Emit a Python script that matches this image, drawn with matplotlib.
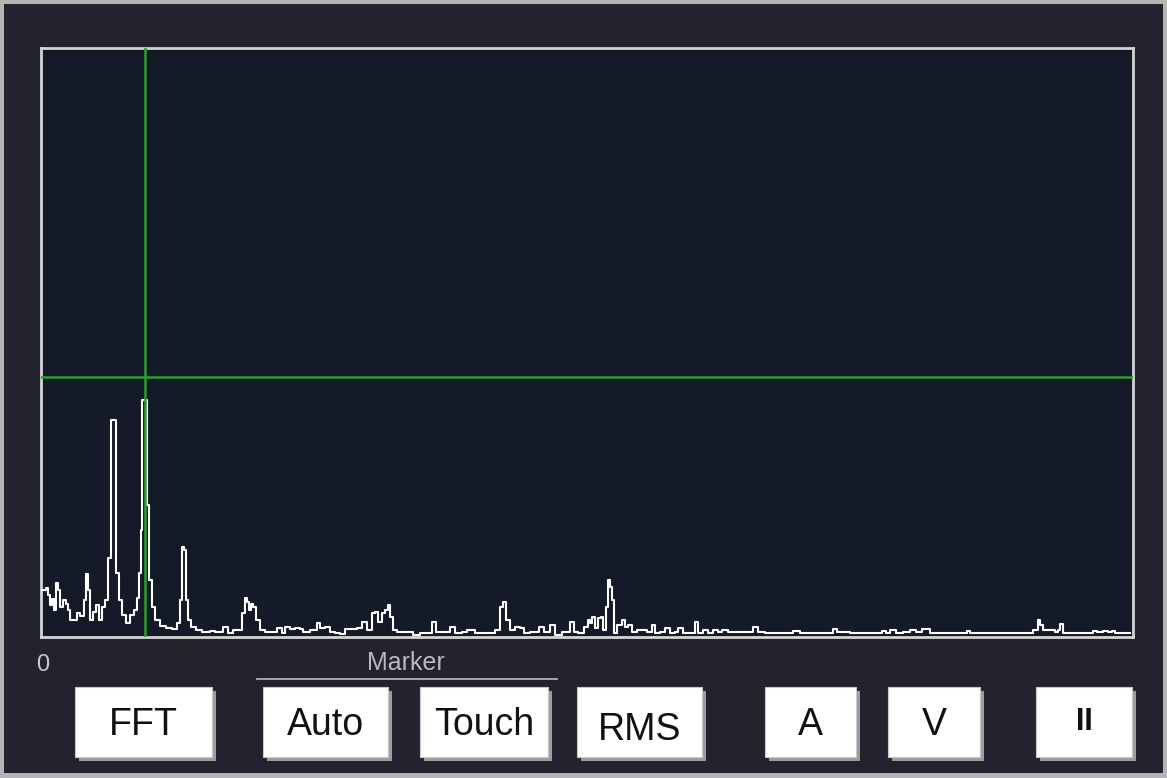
import matplotlib
matplotlib.use("Agg")
import matplotlib.pyplot as plt
from matplotlib.patches import Rectangle
from matplotlib.lines import Line2D

W, H = 1167, 778

# spectrum: frequency bin, amplitude (% of full scale)
freq = [0, 2, 5, 7, 9, 11, 13, 15, 17, 19, 22, 25, 27, 29, 33, 36, 39, 43, 45, 47,
        49, 52, 55, 58, 61, 64, 67, 70, 72, 75, 78, 81, 85, 89, 93, 96, 98, 100, 101, 103,
        106, 108, 111, 114, 119, 125, 131, 136, 139, 141, 143, 145, 147, 150, 155, 161,
        164, 169, 174, 182, 187, 192, 197, 201, 204, 206, 208, 210, 212, 215, 219, 224,
        229, 236, 241, 244, 249, 254, 259, 262, 269, 276, 279, 284, 289, 294, 299, 304,
        312, 316, 321, 326, 331, 334, 337, 341, 344, 347, 349, 352,
        356, 364, 372, 379, 386, 391, 395, 402, 409, 414, 421, 426, 434, 444, 454, 459,
        462, 465, 469, 474, 479, 483, 489, 497, 498, 503, 509, 514, 521, 529, 533, 537,
        543, 547, 549, 551, 554, 557, 560, 562, 565, 567, 569, 571, 573, 576, 581, 584,
        587, 591, 596, 602, 606, 611, 614, 619, 624, 629, 634, 637, 642, 649, 654, 657,
        662, 667, 672, 677, 681, 687, 699, 712, 717, 724, 739, 752, 759, 779, 792, 796,
        804, 809, 829, 841, 845, 849, 855, 862, 869, 875, 881, 886, 889, 909, 926, 929,
        959, 979, 992, 997, 999, 1002, 1009, 1014, 1017, 1019, 1022, 1039, 1052, 1056,
        1062, 1067, 1071, 1074, 1089]
amp = [8.0, 8.0, 8.3, 7.1, 5.4, 6.4, 4.6, 9.2, 8.0, 5.1, 6.3, 5.6, 4.6, 2.9, 2.9, 4.1, 3.6, 6.3, 10.7, 8.0,
       2.9, 4.2, 5.4, 2.9, 5.1, 6.3, 13.4, 36.8, 36.8, 10.9, 6.3, 3.7, 2.4, 3.7, 4.6, 6.6, 10.9, 18.2, 40.2, 40.2,
       22.4, 9.7, 5.1, 2.9, 1.9, 1.5, 1.4, 2.4, 6.3, 15.3, 14.8, 6.3, 2.9, 1.7, 1.2, 0.8,
       0.8, 1.0, 0.8, 1.7, 0.7, 1.2, 1.2, 4.1, 6.6, 5.9, 4.6, 5.6, 5.1, 2.9, 1.2, 0.8,
       0.8, 1.5, 0.7, 1.7, 1.4, 1.5, 1.4, 0.8, 1.2, 2.4, 1.5, 1.7, 0.8, 0.7, 0.5, 1.4,
       1.4, 1.5, 2.5, 1.2, 4.1, 4.2, 2.5, 4.1, 4.6, 5.4, 3.4, 1.2,
       0.8, 0.8, 0.3, 0.7, 0.7, 2.5, 0.8, 0.8, 1.7, 0.7, 0.8, 1.2, 0.7, 0.7, 1.2, 5.1,
       5.9, 2.9, 1.2, 1.7, 1.5, 0.7, 0.8, 0.8, 1.7, 0.8, 2.0, 0.3, 0.8, 2.5, 0.8, 0.7,
       1.7, 2.9, 2.4, 3.4, 1.5, 3.2, 3.4, 1.2, 5.1, 9.7, 8.5, 6.3, 0.7, 2.0, 2.9, 1.7,
       2.0, 0.8, 1.2, 1.2, 0.8, 2.0, 0.7, 0.8, 1.5, 0.7, 0.8, 1.5, 0.7, 0.7, 2.5, 0.7,
       1.2, 0.7, 1.2, 0.8, 1.2, 0.8, 0.8, 1.7, 0.8, 0.7, 0.7, 1.0, 0.7, 0.7, 1.4, 0.8,
       0.8, 0.7, 0.7, 1.0, 0.7, 1.2, 0.7, 0.8, 1.2, 0.8, 1.4, 1.4, 0.7, 0.7, 1.0, 0.7,
       0.7, 0.7, 1.2, 2.9, 2.0, 1.2, 1.2, 0.8, 1.2, 2.2, 0.7, 0.7, 1.0, 0.8,
       1.0, 0.8, 1.0, 0.7, 0.7]

marker_freq = 104     # vertical cursor
marker_level = 44.1   # horizontal cursor

buttons = ["FFT", "Auto", "Touch", "RMS", "A", "V", "II"]
button_left = [75, 263, 420, 577, 765, 888, 1036]
button_right = [212, 388, 548, 702, 856, 980, 1132]

plt.rcParams['font.family'] = ['Liberation Sans', 'DejaVu Sans']

fig = plt.figure(figsize=(W / 100, H / 100), dpi=100, facecolor="#b4b4b4")


def fx(x):
    return x / W


def fy(y):
    return 1 - y / H


# dark panel inside the light bezel (behind the axes)
fig.add_artist(Rectangle((fx(4), fy(773)), fx(1163) - fx(4), fy(4) - fy(773),
                         transform=fig.transFigure, facecolor="#23232f", edgecolor="none",
                         zorder=-10))

ax = fig.add_axes([fx(41), fy(637), fx(1133) - fx(41), fy(48) - fy(637)])
ax.set_facecolor("#141a28")
ax.plot(freq, amp, color="white", lw=1.5, drawstyle="steps-post", zorder=3)
ax.axvline(marker_freq, color="#2ca02c", lw=1.8, zorder=4)
ax.axhline(marker_level, color="#2ca02c", lw=1.8, zorder=4)
ax.set_xlim(0, 1092)
ax.set_ylim(0, 100)
ax.set_xticks([])
ax.set_yticks([])
for s in ax.spines.values():
    s.set_color("#d4d4d4")
    s.set_linewidth(2)

fig.text(fx(36), fy(665), "0", color="#c8c8c8", fontsize=17, va="center", ha="left")
fig.text(fx(406), fy(663), "Marker", color="#b8b8c0", fontsize=18, va="center", ha="center")
fig.add_artist(Line2D([fx(257), fx(557)], [fy(679), fy(679)], transform=fig.transFigure,
                      color="#b0b0b8", lw=1.3))

for name, x0, x1 in zip(buttons, button_left, button_right):
    fig.add_artist(Rectangle((fx(x0 + 4), fy(761)), fx(x1) - fx(x0), fy(687) - fy(757),
                             transform=fig.transFigure, facecolor="#9c9c9c", edgecolor="none"))
    fig.add_artist(Rectangle((fx(x0), fy(757)), fx(x1) - fx(x0), fy(687) - fy(757),
                             transform=fig.transFigure, facecolor="white", edgecolor="#c8c8c8",
                             lw=0.8))
    yc = 730 if name == "RMS" else 725
    if name == "II":
        fig.text(fx((x0 + x1) / 2), fy(722), name, fontsize=22, fontweight="bold",
                 ha="center", va="center", color="#111111")
    else:
        fig.text(fx((x0 + x1) / 2), fy(yc), name, fontsize=27, ha="center", va="center",
                 color="#111111")

fig.savefig("out.png", dpi=100, facecolor=fig.get_facecolor())
